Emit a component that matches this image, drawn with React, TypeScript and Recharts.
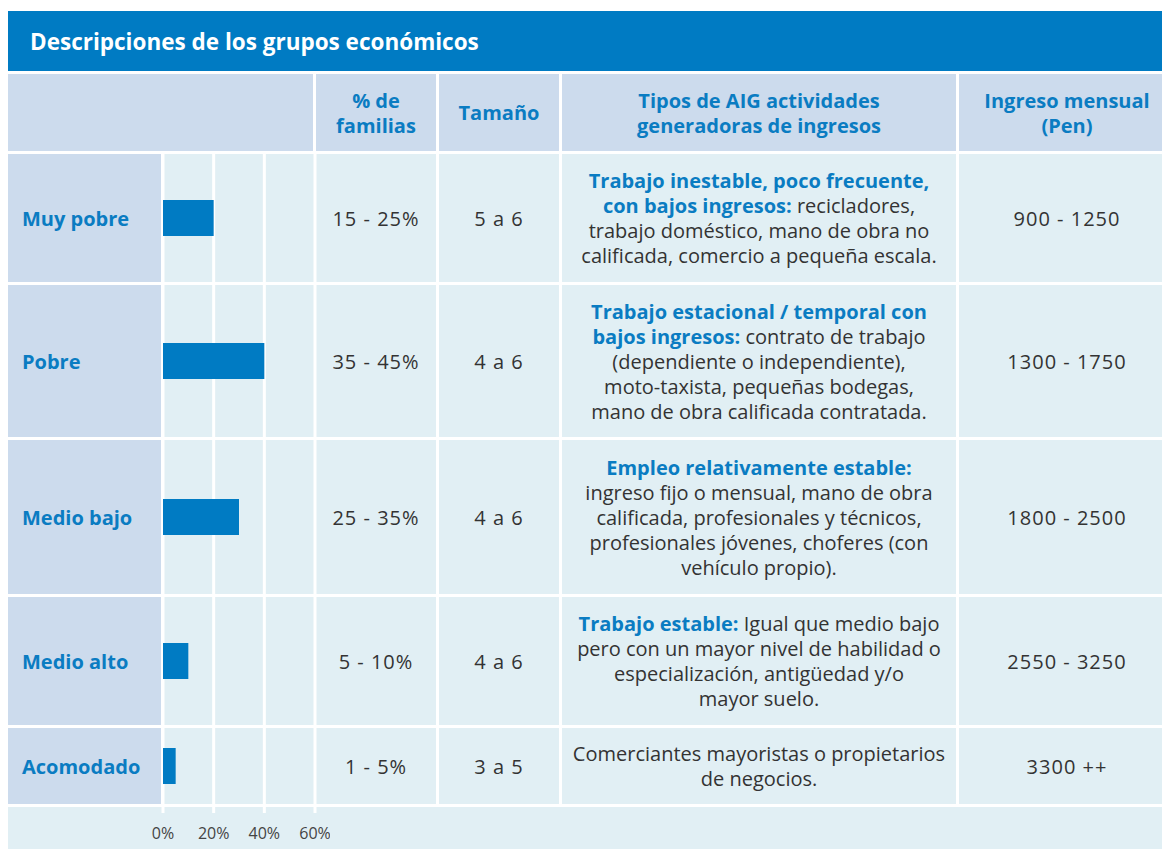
import React from "react";
import { Bar, BarChart, CartesianGrid, XAxis, YAxis } from "recharts";

const groups = ["Muy pobre", "Pobre", "Medio bajo", "Medio alto", "Acomodado"];
const barShare = [20, 40, 30, 10, 5];
const familyShare = ["15 - 25%", "35 - 45%", "25 - 35%", "5 - 10%", "1 - 5%"];
const householdSize = ["5 a 6", "4 a 6", "4 a 6", "4 a 6", "3 a 5"];
const incomeRange = ["900 - 1250", "1300 - 1750", "1800 - 2500", "2550 - 3250", "3300 ++"];
// "**...**" marks the bold blue part of a line
const activityLines = [
  [
    "**Trabajo inestable, poco frecuente,**",
    "**con bajos ingresos:** recicladores,",
    "trabajo doméstico, mano de obra no",
    "calificada, comercio a pequeña escala.",
  ],
  [
    "**Trabajo estacional / temporal con**",
    "**bajos ingresos:** contrato de trabajo",
    "(dependiente o independiente),",
    "moto-taxista, pequeñas bodegas,",
    "mano de obra calificada contratada.",
  ],
  [
    "**Empleo relativamente estable:**",
    "ingreso fijo o mensual, mano de obra",
    "calificada, profesionales y técnicos,",
    "profesionales jóvenes, choferes (con",
    "vehículo propio).",
  ],
  [
    "**Trabajo estable:** Igual que medio bajo",
    "pero con un mayor nivel de habilidad o",
    "especialización, antigüedad y/o",
    "mayor suelo.",
  ],
  ["Comerciantes mayoristas o propietarios", "de negocios."],
];
const axisTicks = [0, 20, 40, 60];
const headers = [
  ["% de", "familias"],
  ["Tamaño"],
  ["Tipos de AIG actividades", "generadoras de ingresos"],
  ["Ingreso mensual", "(Pen)"],
];

// layout
const rowTop = [154, 285, 440, 597, 728];
const rowH = [128, 152, 154, 128, 76];
const cols = [
  { x: 316, w: 120 },
  { x: 439, w: 120 },
  { x: 562, w: 394 },
  { x: 959, w: 216 },
];

const BLUE = "#0a7cc2";
const BAND = "#007bc3";
const HEAD_BG = "#ccdbed";
const CELL_BG = "#e1eff4";
const TEXT = "#333333";
const FONT = "'Open Sans', sans-serif";

const box = (x: number, y: number, w: number, h: number, bg: string): React.CSSProperties => ({
  position: "absolute",
  left: x,
  top: y,
  width: w,
  height: h,
  background: bg,
  display: "flex",
  flexDirection: "column",
  alignItems: "center",
  justifyContent: "center",
  textAlign: "center",
  whiteSpace: "nowrap",
  boxSizing: "border-box",
});

const Line = ({ text }: { text: string }) => {
  const parts = text.split("**");
  return (
    <div>
      {parts.map((p, k) =>
        k % 2 === 1 ? (
          <span key={k} style={{ color: BLUE, fontWeight: 700 }}>
            {p}
          </span>
        ) : (
          <span key={k}>{p}</span>
        )
      )}
    </div>
  );
};

const RowChart = ({ i }: { i: number }) => {
  const last = i === groups.length - 1;
  const data = [{ name: groups[i], value: barShare[i] }];
  return (
    <div style={{ position: "absolute", left: 150, top: rowTop[i] }}>
      <BarChart
        width={180}
        height={last ? rowH[i] + 45 : rowH[i]}
        data={data}
        layout="vertical"
        margin={{ top: 0, right: 15, bottom: 0, left: 13 }}
      >
        <CartesianGrid horizontal={false} stroke="#ffffff" strokeWidth={3} />
        <XAxis
          type="number"
          domain={[0, 60]}
          ticks={axisTicks}
          hide={!last}
          height={45}
          axisLine={false}
          tickSize={9}
          tickMargin={15}
          tickLine={{ stroke: "#ffffff", strokeWidth: 3 }}
          tick={{ fill: "#444444", fontSize: 16, fontFamily: FONT }}
          tickFormatter={(v: number) => `${v}%`}
        />
        <YAxis type="category" dataKey="name" hide />
        <Bar dataKey="value" fill={BAND} barSize={36} isAnimationActive={false} />
      </BarChart>
    </div>
  );
};

const App = () => {
  const num: React.CSSProperties = { letterSpacing: 1 };
  return (
    <div
      style={{
        position: "absolute",
        left: 0,
        top: 0,
        width: 1162,
        height: 849,
        overflow: "hidden",
        background: "#ffffff",
        fontFamily: FONT,
        fontSize: 20,
        lineHeight: "25px",
        color: TEXT,
      }}
    >
      <div
        style={{
          ...box(8, 11, 1170, 60, BAND),
          alignItems: "flex-start",
          paddingLeft: 22,
          color: "#ffffff",
          fontWeight: 700,
          fontSize: 22.5,
        }}
      >
        Descripciones de los grupos económicos
      </div>

      <div style={box(8, 74, 305, 77, HEAD_BG)} />
      {headers.map((h, c) => (
        <div key={c} style={{ ...box(cols[c].x, 74, cols[c].w, 77, HEAD_BG), color: BLUE, fontWeight: 700 }}>
          {h.map((l) => (
            <div key={l}>{l}</div>
          ))}
        </div>
      ))}

      {groups.map((g, i) => (
        <React.Fragment key={g}>
          <div
            style={{
              ...box(8, rowTop[i], 153, rowH[i], HEAD_BG),
              alignItems: "flex-start",
              paddingLeft: 14,
              color: BLUE,
              fontWeight: 700,
            }}
          >
            {g}
          </div>
          <div style={box(164, rowTop[i], 150, rowH[i], CELL_BG)} />
          <div style={{ ...box(cols[0].x, rowTop[i], cols[0].w, rowH[i], CELL_BG), ...num }}>{familyShare[i]}</div>
          <div style={{ ...box(cols[1].x, rowTop[i], cols[1].w, rowH[i], CELL_BG), ...num }}>{householdSize[i]}</div>
          <div style={box(cols[2].x, rowTop[i], cols[2].w, rowH[i], CELL_BG)}>
            {activityLines[i].map((l) => (
              <Line key={l} text={l} />
            ))}
          </div>
          <div style={{ ...box(cols[3].x, rowTop[i], cols[3].w, rowH[i], CELL_BG), ...num }}>{incomeRange[i]}</div>
        </React.Fragment>
      ))}

      <div style={box(8, 807, 1170, 50, CELL_BG)} />

      {groups.map((g, i) => (
        <RowChart key={g} i={i} />
      ))}
    </div>
  );
};

export default App;
